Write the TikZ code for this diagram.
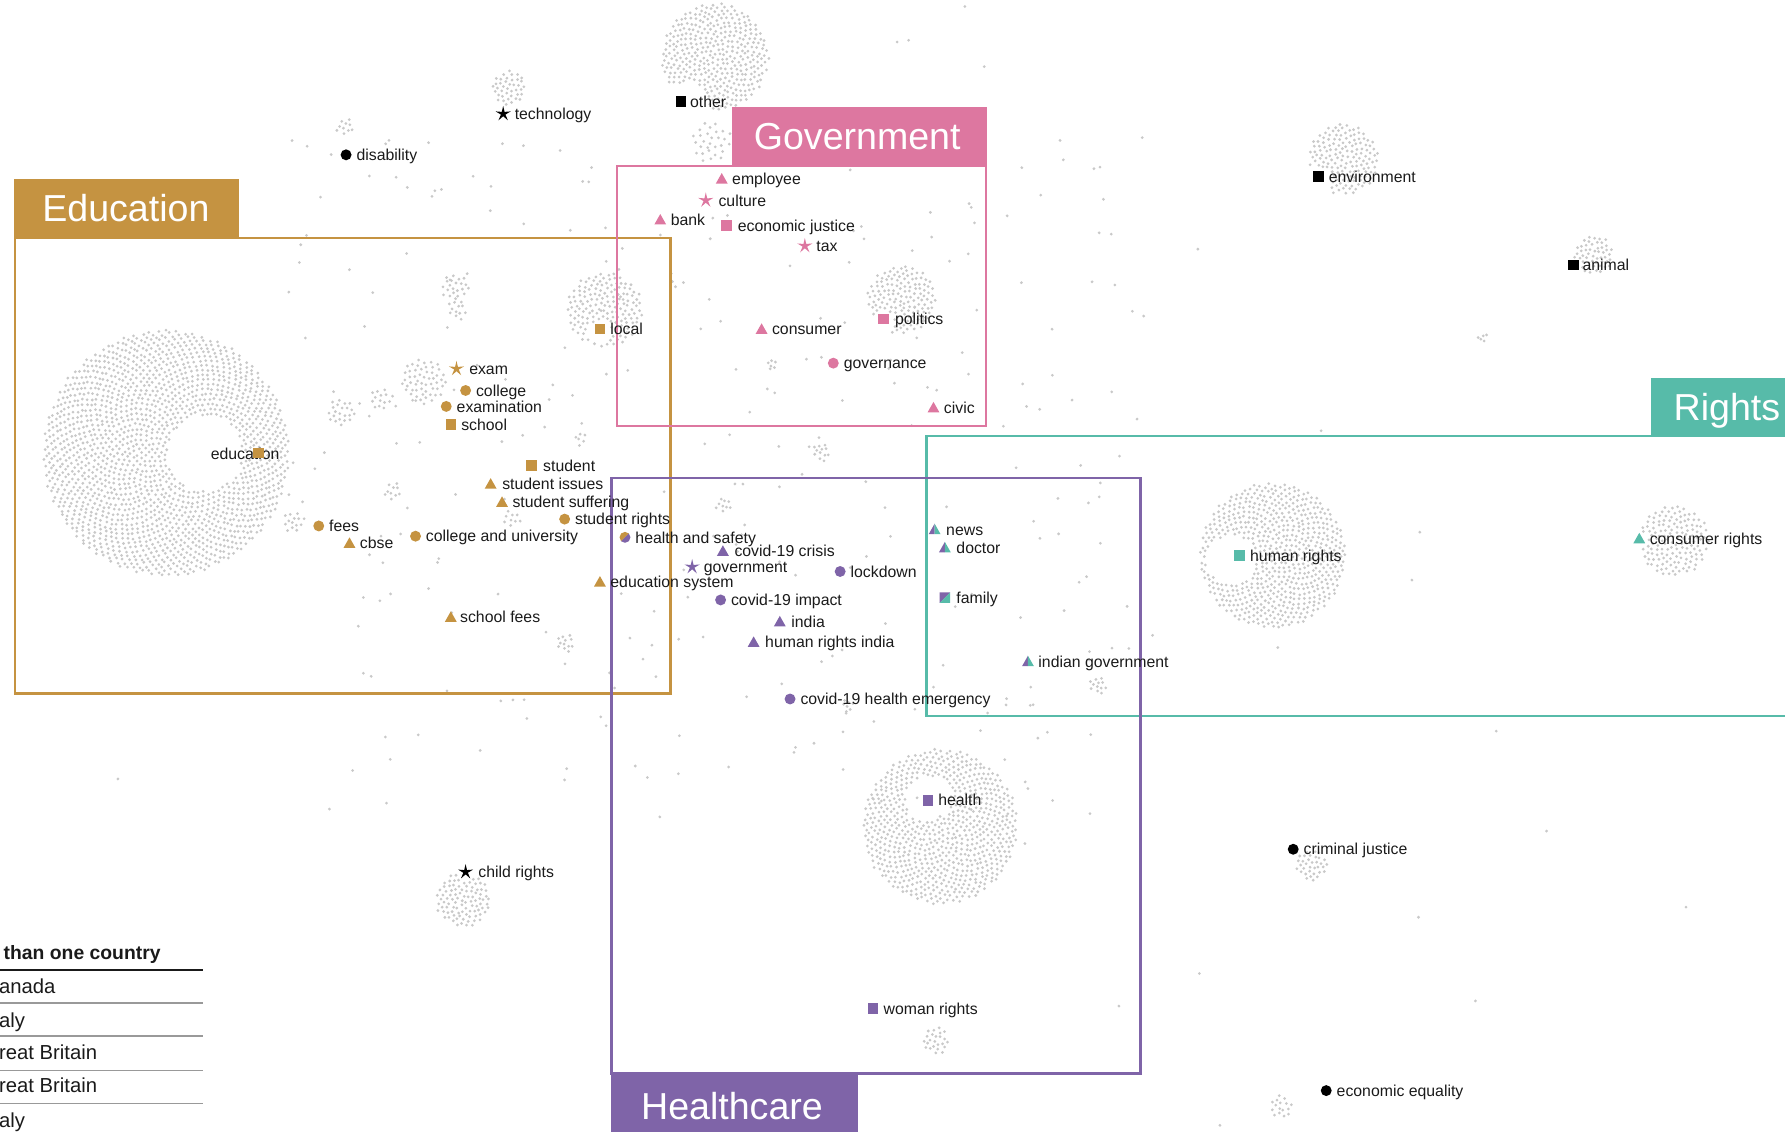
\documentclass[tikz,border=0pt]{standalone}
\usepackage{fontspec}
\setmainfont{Liberation Sans}
\definecolor{cGold}{HTML}{C59341}
\definecolor{cPink}{HTML}{DD77A0}
\definecolor{cTeal}{HTML}{57BBA9}
\definecolor{cPurp}{HTML}{7F64A8}
\definecolor{cDot}{HTML}{C9C9C9}
\definecolor{cInk}{HTML}{1A1A1A}
\newcommand\dcl[7]{%
 \foreach \k in {1,...,#4}{%
  \pgfmathsetmacro\dR{#3*sqrt((\k-0.5)/#4)}%
  \pgfmathsetmacro\dA{360*mod(\k*0.381966,1)}%
  \pgfmathsetmacro\dX{#1+\dR*cos(\dA)+0.7*rand}%
  \pgfmathsetmacro\dY{#2+\dR*sin(\dA)+0.7*rand}%
  \pgfmathtruncatemacro\dK{veclen(\dX-#5,\dY-#6)>#7}%
  \ifnum\dK=1 \fill[dotc] (\dX,\dY) circle[radius=1.35];\fi
 }}
\newcommand\msq[3]{\fill[#1] (#2-4.6,#3-4.6) rectangle (#2+4.6,#3+4.6);}
\newcommand\mci[3]{\fill[#1] (#2,#3) circle[radius=4.8];}
\newcommand\mtr[3]{\fill[#1] (#2,#3-5) -- (#2+5.2,#3+4.2) -- (#2-5.2,#3+4.2) -- cycle;}
\newcommand\mst[3]{\fill[#1] (#2,#3) +(-90:7) -- +(-54:2.1) -- +(-18:7) -- +(18:2.1) -- +(54:7) -- +(90:2.1) -- +(126:7) -- +(162:2.1) -- +(198:7) -- +(234:2.1) -- cycle;}
\newcommand\mtrpt[2]{\fill[cPurp] (#1,#2-5) -- (#1,#2+4.2) -- (#1-5.2,#2+4.2) -- cycle; \fill[cTeal] (#1,#2-5) -- (#1+5.2,#2+4.2) -- (#1,#2+4.2) -- cycle;}
\newcommand\lbl[4]{\node[lab] (#1) at (#2,#3+5) {#4};}
\begin{document}
\begin{tikzpicture}[x=1pt,y=-1pt,
  dotc/.style={fill=cDot},
  lab/.style={anchor=base west, inner sep=0pt, font=\fontsize{13.9}{15}\selectfont, text=cInk},
  ttl/.style={anchor=base west, inner sep=0pt, font=\fontsize{33}{36}\selectfont, text=white},
  frame/.style={line width=2.2pt},
  leg/.style={anchor=base west, inner sep=0pt, font=\fontsize{17.8}{20}\selectfont, text=cInk}]
\useasboundingbox (0,0) rectangle (1568,994);
\clip (0,0) rectangle (1568,994);
\pgfmathsetseed{4242}
% ---------- dot clusters ----------
\dcl{146}{398}{108}{1900}{180}{398}{33}
\dcl{826}{726}{68}{780}{815}{702}{20}
\dcl{1118}{488}{64}{700}{1082}{492}{22}
\dcl{628}{50}{47}{380}{602}{92}{20}
\dcl{1180}{140}{31}{160}{1158}{158}{12}
\dcl{1400}{224}{17}{52}{1382}{233}{7}
\dcl{447}{77}{15}{40}{0}{0}{-1}
\dcl{792}{263}{30}{150}{776}{282}{10}
\dcl{531}{272}{33}{170}{527}{292}{10}
\dcl{1470}{475}{31}{150}{1440}{474}{8}
\dcl{407}{790}{24}{100}{409}{766}{8}
\dcl{1152}{760}{14}{34}{1136}{746}{6}
\dcl{1125}{972}{10}{16}{0}{0}{-1}
\dcl{822}{914}{12}{24}{0}{0}{-1}
\dcl{303}{112}{8}{10}{0}{0}{-1}
\dcl{400}{252}{12}{22}{0}{0}{-1}
\dcl{402}{272}{9}{12}{0}{0}{-1}
\dcl{372}{335}{20}{55}{0}{0}{-1}
\dcl{300}{362}{12}{22}{0}{0}{-1}
\dcl{335}{350}{10}{14}{0}{0}{-1}
\dcl{345}{432}{8}{10}{0}{0}{-1}
\dcl{258}{458}{10}{14}{0}{0}{-1}
\dcl{497}{565}{8}{12}{0}{0}{-1}
\dcl{965}{602}{8}{12}{0}{0}{-1}
\dcl{636}{443}{7}{9}{0}{0}{-1}
\dcl{722}{397}{8}{12}{0}{0}{-1}
\dcl{1302}{297}{5}{5}{0}{0}{-1}
\dcl{625}{125}{18}{28}{0}{0}{-1}
\dcl{678}{320}{5}{6}{0}{0}{-1}
\dcl{745}{620}{6}{7}{0}{0}{-1}
\dcl{510}{385}{6}{6}{0}{0}{-1}
\dcl{450}{455}{8}{9}{0}{0}{-1}
\foreach \i in {1,...,280}{%
  \pgfmathsetmacro\dX{635+385*rand}%
  \pgfmathsetmacro\dY{420+300*rand}%
  \fill[dotc] (\dX,\dY) circle[radius=1.35];}
\foreach \i in {1,...,25}{%
  \pgfmathsetmacro\dX{784+784*rand}%
  \pgfmathsetmacro\dY{497+497*rand}%
  \fill[dotc] (\dX,\dY) circle[radius=1.35];}
% ---------- category frames ----------
\fill[cGold] (12,157) rectangle (210,209);
\draw[cGold,frame] (13,209) rectangle (589,609);
\node[ttl] (tEdu) at (37,195) {Education};
\fill[cPink] (643,94) rectangle (867,146);
\draw[cPink,frame] (542,146) rectangle (866,374);
\node[ttl] (tGov) at (662,131) {Government};
\fill[cTeal] (1450,332) rectangle (1580,383);
\draw[cTeal,frame] (814,383) rectangle (1580,629);
\node[ttl] (tRig) at (1470,369) {Rights};
\fill[cPurp] (537,943) rectangle (754,1000);
\draw[cPurp,frame] (537,420) rectangle (1002,943);
\node[ttl] (tHea) at (563,983) {Healthcare};
% ---------- uncategorised ----------
\mst{black}{442}{100} \lbl{technology}{452}{100}{technology}
\mci{black}{304}{136} \lbl{disability}{313}{136}{disability}
\msq{black}{598}{89} \lbl{other}{606}{89}{other}
\msq{black}{1158}{155} \lbl{environment}{1167}{155}{environment}
\msq{black}{1382}{233} \lbl{animal}{1390}{233}{animal}
\mci{black}{1136}{746} \lbl{crimjust}{1145}{746}{criminal justice}
\mci{black}{1165}{958} \lbl{econeq}{1174}{958}{economic equality}
\mst{black}{409}{766} \lbl{childrights}{420}{766}{child rights}
% ---------- government ----------
\mtr{cPink}{634}{157} \lbl{employee}{643}{157}{employee}
\mst{cPink}{620}{176} \lbl{culture}{631}{176}{culture}
\mtr{cPink}{580}{193} \lbl{bank}{589}{193}{bank}
\msq{cPink}{638}{198} \lbl{econjust}{648}{198}{economic justice}
\mst{cPink}{707}{216} \lbl{tax}{717}{216}{tax}
\mtr{cPink}{669}{289} \lbl{consumer}{678}{289}{consumer}
\msq{cPink}{776}{280} \lbl{politics}{786}{280}{politics}
\mci{cPink}{732}{319} \lbl{governance}{741}{319}{governance}
\mtr{cPink}{820}{358} \lbl{civic}{829}{358}{civic}
% ---------- education ----------
\msq{cGold}{527}{289} \lbl{local}{536}{289}{local}
\mst{cGold}{401}{324} \lbl{exam}{412}{324}{exam}
\mci{cGold}{409}{343} \lbl{college}{418}{343}{college}
\mci{cGold}{392}{357} \lbl{examination}{401}{357}{examination}
\msq{cGold}{396}{373} \lbl{school}{405}{373}{school}
\lbl{education}{185}{399}{education} \msq{cGold}{227}{398}
\msq{cGold}{467}{409} \lbl{student}{477}{409}{student}
\mtr{cGold}{431}{425} \lbl{studiss}{441}{425}{student issues}
\mtr{cGold}{441}{441} \lbl{studsuff}{450}{441}{student suffering}
\mci{cGold}{496}{456} \lbl{studrights}{505}{456}{student rights}
\mci{cGold}{280}{462} \lbl{fees}{289}{462}{fees}
\mtr{cGold}{307}{477} \lbl{cbse}{316}{477}{cbse}
\mci{cGold}{365}{471} \lbl{colluni}{374}{471}{college and university}
\begin{scope}
  \clip (549,472) circle[radius=4.8];
  \fill[cGold] (543,466) -- (555,466) -- (543,478) -- cycle;
  \fill[cPurp] (555,466) -- (555,478) -- (543,478) -- cycle;
\end{scope}
\lbl{healthsafety}{558}{472}{health and safety}
\mtr{cGold}{527}{511} \lbl{edusys}{536}{511}{education system}
\mtr{cGold}{396}{542} \lbl{schoolfees}{404}{542}{school fees}
% ---------- healthcare ----------
\mtr{cPurp}{635}{484} \lbl{covcrisis}{645}{484}{covid-19 crisis}
\mst{cPurp}{608}{498} \lbl{government}{618}{498}{government}
\mci{cPurp}{738}{502} \lbl{lockdown}{747}{502}{lockdown}
\mci{cPurp}{633}{527} \lbl{covimpact}{642}{527}{covid-19 impact}
\mtr{cPurp}{685}{546} \lbl{india}{695}{546}{india}
\mtr{cPurp}{662}{564} \lbl{hrindia}{672}{564}{human rights india}
\mci{cPurp}{694}{614} \lbl{covemerg}{703}{614}{covid-19 health emergency}
\msq{cPurp}{815}{703} \lbl{health}{824}{703}{health}
\msq{cPurp}{767}{886} \lbl{womanrights}{776}{886}{woman rights}
% ---------- rights ----------
\mtrpt{821}{465} \lbl{news}{831}{465}{news}
\mtrpt{830}{481} \lbl{doctor}{840}{481}{doctor}
\fill[cPurp] (825.4,520.4) -- (834.6,520.4) -- (825.4,529.6) -- cycle;
\fill[cTeal] (834.6,520.4) -- (834.6,529.6) -- (825.4,529.6) -- cycle;
\lbl{family}{840}{525}{family}
\mtrpt{903}{581} \lbl{indgov}{912}{581}{indian government}
\msq{cTeal}{1089}{488} \lbl{humanrights}{1098}{488}{human rights}
\mtr{cTeal}{1440}{473} \lbl{consrights}{1449}{473}{consumer rights}
% ---------- legend (cut at left edge) ----------
\node[leg,font=\fontsize{17}{20}\selectfont\bfseries] (lg0) at (3,843) {than one country};
\draw[cInk,line width=1.2pt] (0,852) -- (178,852);
\node[leg] (lg1) at (-1,873) {anada};
\draw[gray!80,line width=1pt] (0,881) -- (178,881);
\node[leg] (lg2) at (-1,903) {aly};
\draw[gray!80,line width=1pt] (0,910) -- (178,910);
\node[leg] (lg3) at (-1,931) {reat Britain};
\draw[gray!80,line width=1pt] (0,940) -- (178,940);
\node[leg] (lg4) at (-1,960) {reat Britain};
\draw[gray!80,line width=1pt] (0,969) -- (178,969);
\node[leg] (lg5) at (-1,990) {aly};
\end{tikzpicture}
\end{document}
